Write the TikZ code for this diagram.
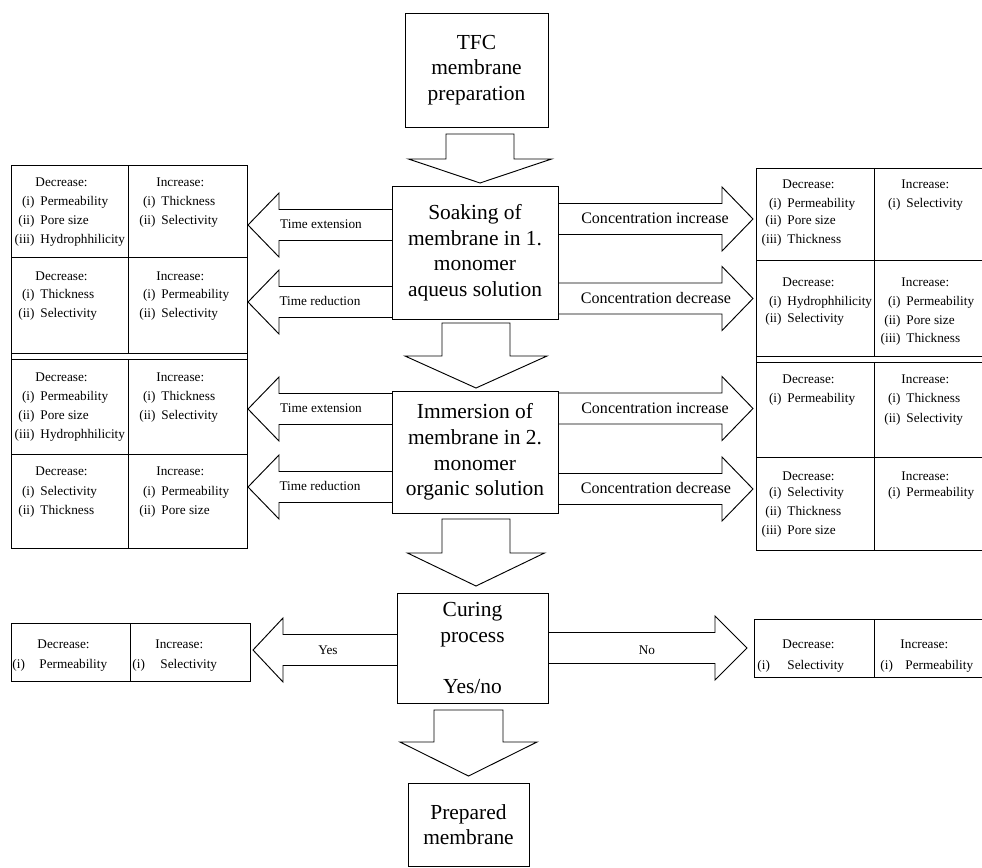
\documentclass[tikz,border=0pt]{standalone}
\usepackage{fontspec}
\setmainfont{Liberation Serif}
% heading placed 5px left of item-text column
\newcommand\hdr[4]{\node[tb, anchor=base west] (#1) at (#2-5,#3) {#4};}
% heading at exact x
\newcommand\hdrx[4]{\node[tb, anchor=base west] (#1) at (#2,#3) {#4};}
% item: label right-aligned before text column
\newcommand\itm[5]{\node[tb, anchor=base east] (#1a) at (#2-5,#3) {#4};\node[tb, anchor=base west] (#1b) at (#2,#3) {#5};}
% item: label left-aligned at given x
\newcommand\itmL[6]{\node[tb, anchor=base west] (#1a) at (#2,#4) {#5};\node[tb, anchor=base west] (#1b) at (#3,#4) {#6};}
% down block arrow: cx, top, base, tip, stem half, head half
\newcommand\darrow[6]{\draw[blockarrow] (#1-#5,#2) -- (#1+#5,#2) -- (#1+#5,#3) -- (#1+#6,#3) -- (#1,#4) -- (#1-#6,#3) -- (#1-#5,#3) -- cycle;}
% horizontal block arrow (open at box side): xstart, xbase, xtip, cy
\newcommand\harrow[4]{\draw[blockarrow] (#1,#4-15.5) -- (#2,#4-15.5) -- (#2,#4-32) -- (#3,#4) -- (#2,#4+32) -- (#2,#4+15.5) -- (#1,#4+15.5);}
\begin{document}
\begin{tikzpicture}[x=0.3mm,y=-0.3mm, line width=0.8pt,
  box/.style={draw, align=center, font=\fontsize{18.3}{21.8}\selectfont, inner sep=0pt},
  tb/.style={inner sep=0pt, font=\fontsize{11.3}{14}\selectfont},
  lbl/.style={inner sep=0pt, font=\fontsize{11.3}{14}\selectfont},
  clbl/.style={inner sep=0pt, font=\fontsize{13.7}{16}\selectfont},
  blockarrow/.style={draw, line join=miter}]
\useasboundingbox (0,0) rectangle (982,867);

% central boxes
\node[box, minimum width=143*0.3mm, minimum height=114*0.3mm] (tfc) at (476.5,70) {TFC\\membrane\\preparation};
\node[box, minimum width=166*0.3mm, minimum height=133*0.3mm] (soak) at (475,252.5) {Soaking of\\membrane in 1.\\monomer\\aqueus solution};
\node[box, minimum width=166*0.3mm, minimum height=122*0.3mm] (imm) at (475,452) {Immersion of\\membrane in 2.\\monomer\\organic solution};
\node[box, minimum width=151*0.3mm, minimum height=110*0.3mm] (cur) at (472.5,648) {Curing\\process\\\mbox{}\\Yes/no};
\node[box, minimum width=121*0.3mm, minimum height=83*0.3mm] (prep) at (468.5,824.5) {Prepared\\membrane};

% down arrows
\darrow{480}{134}{159}{183}{34}{71.5}
\darrow{476}{323}{356}{388}{34}{71}
\darrow{476}{519}{553}{586}{34}{68.5}
\darrow{468.5}{710}{742}{776}{34.5}{68.5}

% horizontal arrows
\harrow{392}{279}{248}{225}
\harrow{392}{279}{248}{302}
\harrow{558}{722}{753}{219}
\harrow{558}{722}{753}{298.5}
\harrow{392}{279}{248}{409}
\harrow{392}{279}{248}{487}
\harrow{558}{722}{753}{408.5}
\harrow{558}{722}{753}{489}
\harrow{397}{283}{253}{650}
\harrow{548}{715}{747}{648}

% arrow labels
\node[lbl] (te1) at (321,224) {Time extension};
\node[lbl] (tr1) at (320,301) {Time reduction};
\node[lbl] (te2) at (321,408) {Time extension};
\node[lbl] (tr2) at (320,486) {Time reduction};
\node[clbl] (ci1) at (655,218) {Concentration increase};
\node[clbl] (cd1) at (656,298) {Concentration decrease};
\node[clbl] (ci2) at (655,408) {Concentration increase};
\node[clbl] (cd2) at (656,488) {Concentration decrease};
\node[lbl] (yes) at (328,650) {Yes};
\node[lbl] (no) at (647,650) {No};

% left tables
\draw (11,165) rectangle (247,548);
\draw (11,257) -- (247,257);
\draw (11,353) -- (247,353);
\draw (11,359) -- (247,359);
\draw (11,454) -- (247,454);
\draw (128,165) -- (128,353);
\draw (128,359) -- (128,548);

% right tables
\draw (756,168) rectangle (985,550);
\draw (756,260) -- (985,260);
\draw (756,356) -- (985,356);
\draw (756,362) -- (985,362);
\draw (756,457) -- (985,457);
\draw (874,168) -- (874,356);
\draw (874,362) -- (874,550);

% curing tables
\draw (11,623) rectangle (250,681);
\draw (130,623) -- (130,681);
\draw (754,619) rectangle (985,677);
\draw (874,619) -- (874,677);

% left table A
\hdr{laDh}{40}{186}{Decrease:}
\itm{laD1}{40}{205}{(i)}{Permeability}
\itm{laD2}{40}{224}{(ii)}{Pore size}
\itm{laD3}{40}{243}{(iii)}{Hydrophhilicity}
\hdr{laIh}{161}{186}{Increase:}
\itm{laI1}{161}{205}{(i)}{Thickness}
\itm{laI2}{161}{224}{(ii)}{Selectivity}
% left table B
\hdr{lbDh}{40}{280}{Decrease:}
\itm{lbD1}{40}{298}{(i)}{Thickness}
\itm{lbD2}{40}{317}{(ii)}{Selectivity}
\hdr{lbIh}{161}{280}{Increase:}
\itm{lbI1}{161}{298}{(i)}{Permeability}
\itm{lbI2}{161}{317}{(ii)}{Selectivity}
% left table C
\hdr{lcDh}{40}{381}{Decrease:}
\itm{lcD1}{40}{400}{(i)}{Permeability}
\itm{lcD2}{40}{419}{(ii)}{Pore size}
\itm{lcD3}{40}{438}{(iii)}{Hydrophhilicity}
\hdr{lcIh}{161}{381}{Increase:}
\itm{lcI1}{161}{400}{(i)}{Thickness}
\itm{lcI2}{161}{419}{(ii)}{Selectivity}
% left table D
\hdr{ldDh}{40}{475}{Decrease:}
\itm{ldD1}{40}{495}{(i)}{Selectivity}
\itm{ldD2}{40}{514}{(ii)}{Thickness}
\hdr{ldIh}{161}{475}{Increase:}
\itm{ldI1}{161}{495}{(i)}{Permeability}
\itm{ldI2}{161}{514}{(ii)}{Pore size}

% right table A
\hdr{raDh}{787}{188}{Decrease:}
\itm{raD1}{787}{207}{(i)}{Permeability}
\itm{raD2}{787}{224}{(ii)}{Pore size}
\itm{raD3}{787}{243}{(iii)}{Thickness}
\hdr{raIh}{906}{188}{Increase:}
\itm{raI1}{906}{207}{(i)}{Selectivity}
% right table B
\hdr{rbDh}{787}{286}{Decrease:}
\itm{rbD1}{787}{305}{(i)}{Hydrophhilicity}
\itm{rbD2}{787}{322}{(ii)}{Selectivity}
\hdr{rbIh}{906}{286}{Increase:}
\itm{rbI1}{906}{305}{(i)}{Permeability}
\itm{rbI2}{906}{324}{(ii)}{Pore size}
\itm{rbI3}{906}{342}{(iii)}{Thickness}
% right table C
\hdr{rcDh}{787}{383}{Decrease:}
\itm{rcD1}{787}{402}{(i)}{Permeability}
\hdr{rcIh}{906}{383}{Increase:}
\itm{rcI1}{906}{402}{(i)}{Thickness}
\itm{rcI2}{906}{422}{(ii)}{Selectivity}
% right table D
\hdr{rdDh}{787}{480}{Decrease:}
\itm{rdD1}{787}{496}{(i)}{Selectivity}
\itm{rdD2}{787}{515}{(ii)}{Thickness}
\itm{rdD3}{787}{534}{(iii)}{Pore size}
\hdr{rdIh}{906}{480}{Increase:}
\itm{rdI1}{906}{496}{(i)}{Permeability}

% curing tables
\hdrx{cuLDh}{37}{648}{Decrease:}
\itmL{cuLD1}{12}{39}{668}{(i)}{Permeability}
\hdrx{cuLIh}{155}{648}{Increase:}
\itmL{cuLI1}{132}{160}{668}{(i)}{Selectivity}
\hdrx{cuRDh}{782}{648}{Decrease:}
\itmL{cuRD1}{757}{787}{669}{(i)}{Selectivity}
\hdrx{cuRIh}{900}{648}{Increase:}
\itmL{cuRI1}{880}{905}{669}{(i)}{Permeability}
\end{tikzpicture}
\end{document}
